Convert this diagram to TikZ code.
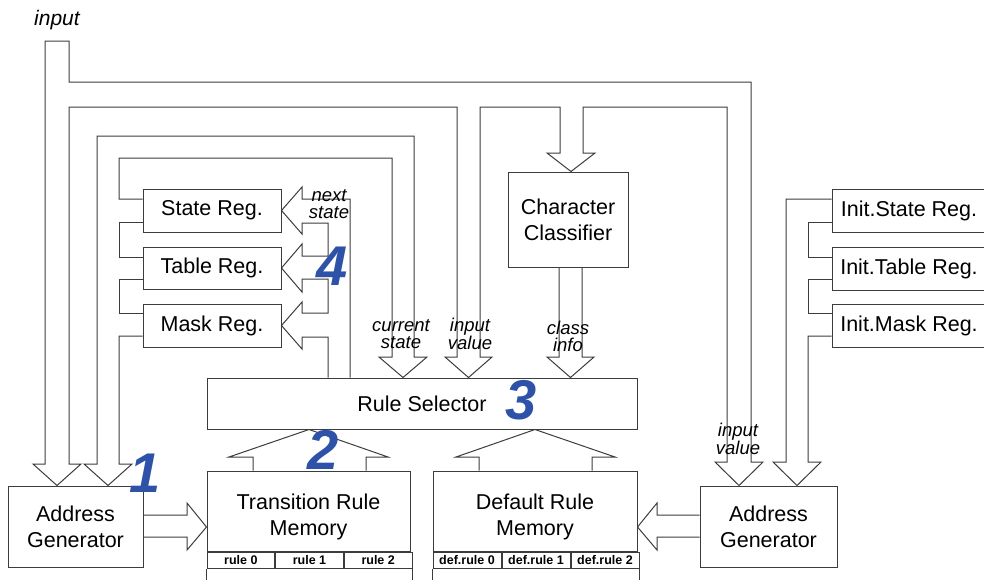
\documentclass[tikz,border=0pt]{standalone}
\usepackage{fontspec}
\setmainfont{Liberation Sans}
\definecolor{numblue}{RGB}{45,82,168}
\definecolor{linec}{RGB}{60,60,60}
\tikzset{
    blk/.style={draw=linec, line width=1pt, align=center, inner sep=0pt,
        font=\fontsize{21.5}{26}\selectfont},
    cell/.style={draw=linec, line width=1pt, inner sep=0pt, minimum height=16pt,
        font=\fontsize{12.5}{12}\selectfont\bfseries},
    bus/.style={draw=linec, line width=1pt},
    lbl/.style={align=center, inner sep=0pt, font=\fontsize{18.5}{17}\selectfont\itshape},
    num/.style={inner sep=0pt, text=numblue, font=\fontsize{56}{56}\selectfont\bfseries\itshape},
    }

\begin{document}
\begin{tikzpicture}[x=1pt,y=-1pt]
\useasboundingbox (0,0) rectangle (984,579);

% blocks
\node[blk, minimum width=138pt, minimum height=43pt] (sreg) at (212,210.5) {State Reg.};
\node[blk, minimum width=138pt, minimum height=42pt] (treg) at (212,268) {Table Reg.};
\node[blk, minimum width=138pt, minimum height=43pt] (mreg) at (212,325.5) {Mask Reg.};
\node[blk, minimum width=154pt, minimum height=43pt] (isreg) at (909,211) {Init.State Reg.};
\node[blk, minimum width=154pt, minimum height=43pt] (itreg) at (909,268.5) {Init.Table Reg.};
\node[blk, minimum width=154pt, minimum height=43pt] (imreg) at (909,325.5) {Init.Mask Reg.};
\node[blk, minimum width=120pt, minimum height=95pt] (ccl) at (568,219.5) {Character\\Classifier};
\node[blk, minimum width=430pt, minimum height=51pt] (rsel) at (422,403.5) {Rule Selector};
\node[blk, minimum width=135pt, minimum height=81pt] (agl) at (75.5,526.5) {Address\\Generator};
\node[blk, minimum width=137pt, minimum height=81pt] (agr) at (768.5,526.5) {Address\\Generator};
\node[blk, minimum width=203pt, minimum height=80pt] (tmem) at (308.5,511) {\rule{0pt}{27pt}Transition Rule\\Memory};
\node[blk, minimum width=204pt, minimum height=80pt] (dmem) at (535,511) {\rule{0pt}{27pt}Default Rule\\Memory};

% rule rows
\node[cell, minimum width=67.67pt, anchor=north west] (r0) at (tmem.south west) {rule 0};
\node[cell, minimum width=67.67pt, anchor=north west] (r1) at (r0.north east) {rule 1};
\node[cell, minimum width=67.67pt, anchor=north west] (r2) at (r1.north east) {rule 2};
\node[cell, minimum width=68pt, anchor=north west] (d0) at (dmem.south west) {def.rule 0};
\node[cell, minimum width=68pt, anchor=north west] (d1) at (d0.north east) {def.rule 1};
\node[cell, minimum width=68pt, anchor=north west] (d2) at (d1.north east) {def.rule 2};
\draw[bus] (r0.south west) -- ++(0,16);
\draw[bus] (r2.south east) -- ++(0,16);
\draw[bus] (d0.south west) -- ++(0,16);
\draw[bus] (d2.south east) -- ++(0,16);

% input bus
\draw[bus] (45,41) -- (69,41) -- (69,82) -- (751,82) -- (751,462) -- (763,462)
    -- (agr.north -| 739,0) -- (715,462) -- (727,462) -- (727,107)
    -- (583,107) -- (583,153) -- (595,153) -- (ccl.north -| 571,0) -- (547,153) -- (560,153) -- (560,107)
    -- (480,107) -- (480,357) -- (492,357) -- (rsel.north -| 468.5,0) -- (445,357) -- (457,357) -- (457,107)
    -- (69,107) -- (69,464) -- (81,464) -- (agl.north -| 57,0) -- (33,464) -- (45,464) -- cycle;

% current state bus
\draw[bus] (mreg.west |- 0,336) -- (119,336) -- (119,464) -- (132,464) -- (agl.north -| 108,0)
    -- (84,464) -- (97,464) -- (97,136) -- (414,136) -- (414,357) -- (427,357)
    -- (rsel.north -| 403,0) -- (379,357) -- (392,357) -- (392,158) -- (119,158) -- (119,199)
    -- (sreg.west |- 0,199);
\draw[bus] (sreg.west |- 0,222) -- (119,222) -- (119,257) -- (treg.west |- 0,257);
\draw[bus] (treg.west |- 0,279) -- (119,279) -- (119,313) -- (mreg.west |- 0,313);

% next state bus
\draw[bus] (rsel.north -| 350,0) -- (350,199) -- (302,199) -- (302,187) -- (sreg.east)
    -- (302,234) -- (302,223) -- (328,223) -- (328,256) -- (302,256) -- (302,244) -- (treg.east)
    -- (302,292) -- (302,279) -- (328,279) -- (328,313) -- (302,313) -- (302,302) -- (mreg.east)
    -- (302,349) -- (302,337) -- (328,337) -- (rsel.north -| 328,0);

% class info
\draw[bus] (ccl.south -| 559,0) -- (559,357) -- (547,357) -- (rsel.north -| 570.5,0)
    -- (594,357) -- (582,357) -- (ccl.south -| 582,0);

% init registers
\draw[bus] (isreg.west |- 0,199) -- (786,199) -- (786,462) -- (773,462) -- (agr.north -| 797,0)
    -- (821,462) -- (808,462) -- (808,336) -- (imreg.west |- 0,336);
\draw[bus] (isreg.west |- 0,222) -- (808,222) -- (808,257) -- (itreg.west |- 0,257);
\draw[bus] (itreg.west |- 0,279) -- (808,279) -- (808,313) -- (imreg.west |- 0,313);

% addresses
\draw[bus] (agl.east |- 0,515) -- (187,515) -- (187,503) -- (tmem.west |- 0,527)
    -- (187,550) -- (187,537) -- (agl.east |- 0,537);
\draw[bus] (agr.west |- 0,515) -- (657,515) -- (657,503) -- (dmem.east |- 0,527)
    -- (657,550) -- (657,537) -- (agr.west |- 0,537);

% rules up
\draw[bus] (tmem.north -| 253,0) -- (253,457) -- (229,457) -- (rsel.south -| 309,0)
    -- (388,457) -- (366,457) -- (tmem.north -| 366,0);
\draw[bus] (dmem.north -| 479,0) -- (479,457) -- (456,457) -- (rsel.south -| 535,0)
    -- (615,457) -- (592,457) -- (dmem.north -| 592,0);

% labels
\node[lbl, font=\fontsize{21}{20}\selectfont\itshape] (lin) at (57,20) {input};
\node[lbl] (lnext) at (329,204) {next\\state};
\node[lbl] (lcur) at (401,334) {current\\state};
\node[lbl] (lval) at (470,334) {input\\value};
\node[lbl] (lcls) at (568,336) {class\\info};
\node[lbl] (lval2) at (738,439) {input\\value};

\node[num] (n1) at (145,473) {1};
\node[num] (n2) at (323,450) {2};
\node[num] (n3) at (521,400) {3};
\node[num] (n4) at (332,266) {4};
\end{tikzpicture}
\end{document}
